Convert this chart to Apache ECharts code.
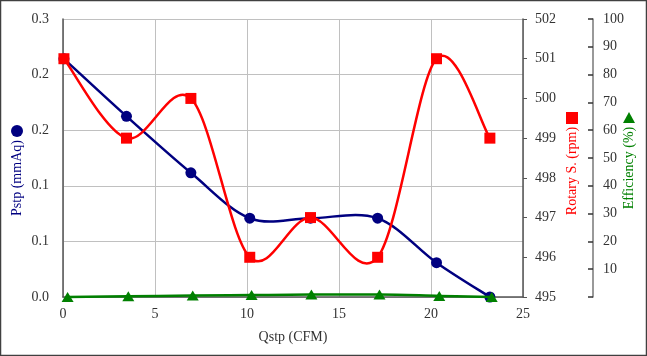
<!DOCTYPE html>
<html><head><meta charset="utf-8">
<script src="https://cdn.jsdelivr.net/npm/echarts@6/dist/echarts.min.js"></script>
<style>html,body{margin:0;padding:0;background:#fff}#c{width:647px;height:356px}</style>
</head><body><div id="c"></div>
<script>
// Data
const qstp = [0.05, 3.45, 6.95, 10.15, 13.45, 17.1, 20.3, 23.2];
const pstp = [0.257, 0.195, 0.134, 0.085, 0.085, 0.085, 0.037, 0.0];
const rotary = [501, 499, 500, 496, 497, 496, 501, 499];
const qstpEff = [0.25, 3.55, 7.05, 10.25, 13.5, 17.2, 20.45, 23.3];
const efficiency = [0.0, 0.3, 0.5, 0.7, 0.9, 0.9, 0.4, 0.0];
const xTicks = [0, 5, 10, 15, 20, 25];

const pairs = (xs, ys) => xs.map((x, i) => [x, ys[i]]);
const FONT = '"Liberation Serif", "Times New Roman", serif';
const lbl = {fontFamily: FONT, fontSize: 14, color: '#333'};

// Excel-style (Catmull-Rom) smoothed line drawn through the axis scales
function smoothLine(xs, ys, yAxisIndex, color, z) {
  const n = xs.length;
  return {
    type: 'custom', yAxisIndex: yAxisIndex, data: pairs(xs, ys), z: z,
    encode: {x: 0, y: 1}, silent: true,
    renderItem: function (params, api) {
      const i = params.dataIndex;
      if (i >= n - 1) return null;
      const P = k => { k = Math.max(0, Math.min(n - 1, k)); return api.coord([xs[k], ys[k]]); };
      const p0 = P(i - 1), p1 = P(i), p2 = P(i + 1), p3 = P(i + 2);
      return {
        type: 'bezierCurve',
        shape: {
          x1: p1[0], y1: p1[1], x2: p2[0], y2: p2[1],
          cpx1: p1[0] + (p2[0] - p0[0]) / 6, cpy1: p1[1] + (p2[1] - p0[1]) / 6,
          cpx2: p2[0] - (p3[0] - p1[0]) / 6, cpy2: p2[1] - (p3[1] - p1[1]) / 6
        },
        style: {stroke: color, lineWidth: 2.5, fill: null, lineCap: 'round'}
      };
    }
  };
}
function markers(xs, ys, yAxisIndex, color, symbol, size, z) {
  return {
    type: 'scatter', yAxisIndex: yAxisIndex, data: pairs(xs, ys), z: z,
    symbol: symbol, symbolSize: size, itemStyle: {color: color, opacity: 1}
  };
}

const chart = echarts.init(document.getElementById('c'), null, {renderer: 'canvas'});
chart.setOption({
  animation: false,
  backgroundColor: '#fff',
  grid: {left: 63, right: 124, top: 19, bottom: 59},
  xAxis: {
    type: 'value', min: xTicks[0], max: xTicks[xTicks.length - 1], interval: 5,
    name: 'Qstp (CFM)', nameLocation: 'middle', nameGap: 33,
    nameTextStyle: {fontFamily: FONT, fontSize: 14, color: '#333'},
    axisLine: {show: true, lineStyle: {color: '#555', width: 1.5}},
    axisTick: {show: false},
    axisLabel: Object.assign({margin: 10}, lbl),
    splitLine: {show: true, lineStyle: {color: '#c0c0c0', width: 1}}
  },
  yAxis: [
    {
      type: 'value', min: 0, max: 0.3, interval: 0.06, position: 'left',
      axisLine: {show: true, lineStyle: {color: '#555', width: 1.5}},
      axisTick: {show: false},
      axisLabel: Object.assign({margin: 14, formatter: v => v.toFixed(1)}, lbl),
      splitLine: {show: true, lineStyle: {color: '#c0c0c0', width: 1}}
    },
    {
      type: 'value', min: 495, max: 502, interval: 1, position: 'right', offset: 0,
      axisLine: {show: true, lineStyle: {color: '#555', width: 1.5}},
      axisTick: {show: true, length: 4, lineStyle: {color: '#555'}},
      axisLabel: Object.assign({margin: 12}, lbl),
      splitLine: {show: false}
    },
    {
      type: 'value', min: 0, max: 100, interval: 10, position: 'right', offset: 70,
      axisLine: {show: true, lineStyle: {color: '#777', width: 1.5}},
      axisTick: {show: true, inside: true, length: 5, lineStyle: {color: '#333', width: 1.5}},
      axisLabel: Object.assign({margin: 10, formatter: v => v === 0 ? '' : String(v)}, lbl),
      splitLine: {show: false}
    }
  ],
  series: [
    smoothLine(qstp, pstp, 0, '#000080', 2),
    markers(qstp, pstp, 0, '#000080', 'circle', 11, 3),
    smoothLine(qstp, rotary, 1, '#ff0000', 4),
    markers(qstp, rotary, 1, '#ff0000', 'rect', 11, 5),
    smoothLine(qstpEff, efficiency, 2, '#008000', 6),
    markers(qstpEff, efficiency, 2, '#008000', 'triangle', [12, 10], 7)
  ],
  graphic: [
    {type: 'rect', shape: {x: 0.5, y: 0.5, width: 646, height: 355}, style: {fill: 'none', stroke: '#404040', lineWidth: 1.5}, silent: true},
    {type: 'circle', shape: {cx: 17, cy: 131, r: 6}, style: {fill: '#000080'}},
    {type: 'text', x: 17, y: 178, rotation: Math.PI / 2,
     style: {text: 'Pstp (mmAq)', fill: '#000080', font: '14px ' + FONT, align: 'center', verticalAlign: 'middle'}},
    {type: 'rect', shape: {x: 566, y: 112, width: 12, height: 12}, style: {fill: '#ff0000'}},
    {type: 'text', x: 572, y: 171, rotation: Math.PI / 2,
     style: {text: 'Rotary S. (rpm)', fill: '#ff0000', font: '14px ' + FONT, align: 'center', verticalAlign: 'middle'}},
    {type: 'polygon', shape: {points: [[629, 112], [635, 123], [623, 123]]}, style: {fill: '#008000'}},
    {type: 'text', x: 629, y: 168, rotation: Math.PI / 2,
     style: {text: 'Efficiency (%)', fill: '#008000', font: '14px ' + FONT, align: 'center', verticalAlign: 'middle'}}
  ]
});
</script>
</body></html>
